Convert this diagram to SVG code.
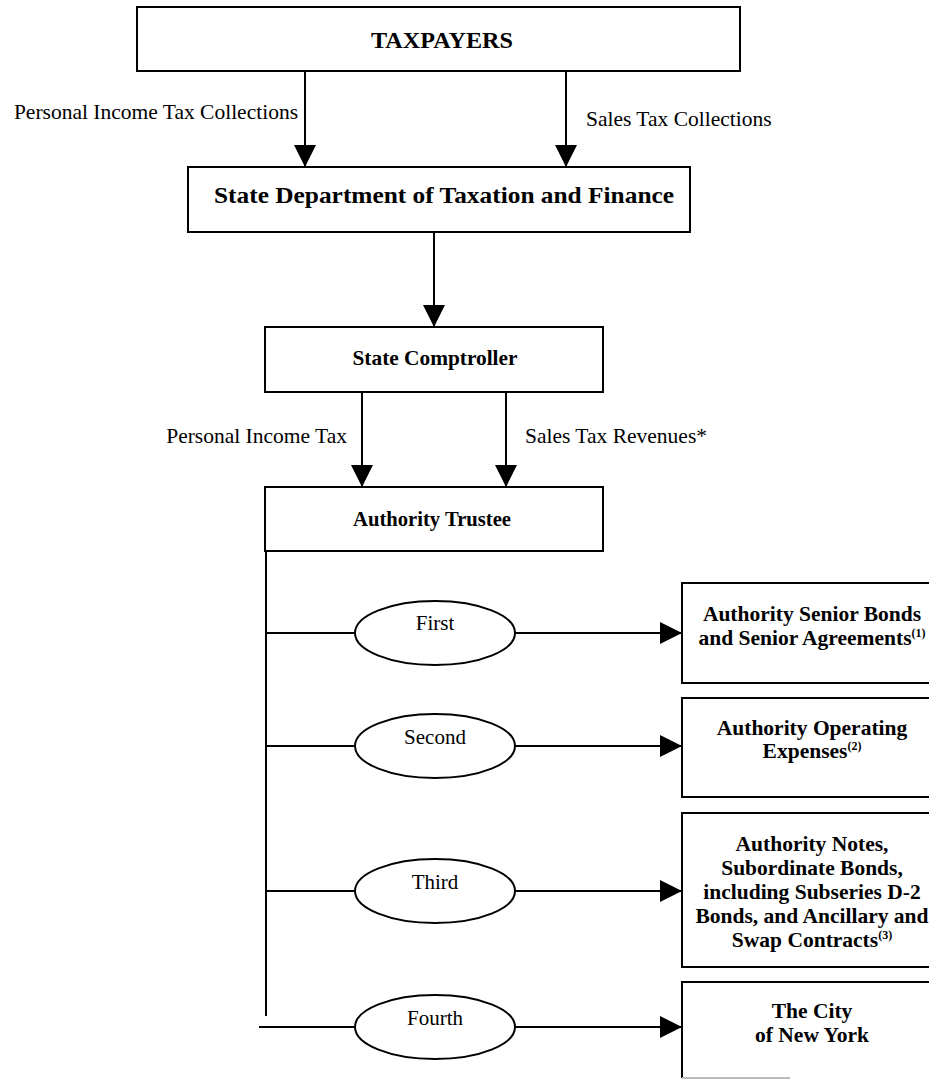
<svg xmlns="http://www.w3.org/2000/svg" width="929" height="1080" viewBox="0 0 929 1080">
<style>
.box{fill:#fff;stroke:#000;stroke-width:2}
.ell{fill:#fff;stroke:#000;stroke-width:2}
.ln{stroke:#000;stroke-width:2;fill:none}
.bt{font-family:"Liberation Serif",serif;font-weight:bold;font-size:23px;text-anchor:middle;fill:#000}
.bs{font-family:"Liberation Serif",serif;font-weight:bold;font-size:21px;text-anchor:middle;fill:#000}
.br{font-family:"Liberation Serif",serif;font-weight:bold;font-size:21.5px;text-anchor:middle;fill:#000}
.lb{font-family:"Liberation Serif",serif;font-size:21.5px;fill:#000}
.el{font-family:"Liberation Serif",serif;font-size:21px;text-anchor:middle;fill:#000}
.sup{font-size:12px}
</style>
<defs>
<marker id="ah" markerUnits="userSpaceOnUse" markerWidth="22" markerHeight="22" viewBox="0 0 20 20" refX="20" refY="10" orient="auto">
<path d="M0,0 L20,10 L0,20 Z" fill="#000"/>
</marker>
</defs>
<g id="connectors">
<line class="ln" x1="305" y1="71" x2="305" y2="167" marker-end="url(#ah)"/>
<line class="ln" x1="566" y1="71" x2="566" y2="167" marker-end="url(#ah)"/>
<line class="ln" x1="434" y1="232" x2="434" y2="327" marker-end="url(#ah)"/>
<line class="ln" x1="362" y1="392" x2="362" y2="487" marker-end="url(#ah)"/>
<line class="ln" x1="506" y1="392" x2="506" y2="487" marker-end="url(#ah)"/>
<line class="ln" x1="266" y1="551" x2="266" y2="1016"/>
<line class="ln" x1="266" y1="633" x2="355" y2="633"/>
<line class="ln" x1="515" y1="633" x2="682" y2="633" marker-end="url(#ah)"/>
<line class="ln" x1="266" y1="746" x2="355" y2="746"/>
<line class="ln" x1="515" y1="746" x2="682" y2="746" marker-end="url(#ah)"/>
<line class="ln" x1="266" y1="891" x2="355" y2="891"/>
<line class="ln" x1="515" y1="891" x2="682" y2="891" marker-end="url(#ah)"/>
<line class="ln" x1="259" y1="1027" x2="355" y2="1027"/>
<line class="ln" x1="515" y1="1027" x2="682" y2="1027" marker-end="url(#ah)"/>
<text class="lb" x="298" y="119" text-anchor="end">Personal Income Tax Collections</text>
<text class="lb" x="586" y="126">Sales Tax Collections</text>
<text class="lb" x="347" y="443" text-anchor="end">Personal Income Tax</text>
<text class="lb" x="525" y="443">Sales Tax Revenues*</text>
</g>
<g id="taxpayers">
<rect class="box" x="137" y="7" width="603" height="64"/>
<text class="bt" x="442" y="48" textLength="142" lengthAdjust="spacingAndGlyphs">TAXPAYERS</text>
</g>
<g id="state-dept">
<rect class="box" x="188" y="167" width="502" height="65"/>
<text class="bt" x="444" y="203" textLength="460" lengthAdjust="spacingAndGlyphs">State Department of Taxation and Finance</text>
</g>
<g id="comptroller">
<rect class="box" x="265" y="327" width="338" height="65"/>
<text class="bs" x="435" y="365" textLength="165" lengthAdjust="spacingAndGlyphs">State Comptroller</text>
</g>
<g id="trustee">
<rect class="box" x="265" y="487" width="338" height="64"/>
<text class="bs" x="432" y="526" textLength="158" lengthAdjust="spacingAndGlyphs">Authority Trustee</text>
</g>
<g id="first">
<ellipse class="ell" cx="435" cy="633" rx="80" ry="32"/>
<text class="el" x="435" y="630">First</text>
</g>
<g id="second">
<ellipse class="ell" cx="435" cy="746" rx="80" ry="32"/>
<text class="el" x="435" y="744">Second</text>
</g>
<g id="third">
<ellipse class="ell" cx="435" cy="891" rx="80" ry="32"/>
<text class="el" x="435" y="889">Third</text>
</g>
<g id="fourth">
<ellipse class="ell" cx="435" cy="1027" rx="80" ry="32"/>
<text class="el" x="435" y="1025">Fourth</text>
</g>
<g id="senior-bonds">
<rect class="box" x="682" y="583" width="260" height="100"/>
<text class="br" x="812" y="621">Authority Senior Bonds</text>
<text class="br" x="812" y="645">and Senior Agreements<tspan class="sup" dy="-8">(1)</tspan></text>
</g>
<g id="operating-expenses">
<rect class="box" x="682" y="698" width="260" height="99"/>
<text class="br" x="812" y="735">Authority Operating</text>
<text class="br" x="812" y="758">Expenses<tspan class="sup" dy="-8">(2)</tspan></text>
</g>
<g id="notes">
<rect class="box" x="682" y="813" width="260" height="154"/>
<text class="br" x="812" y="851">Authority Notes,</text>
<text class="br" x="812" y="875">Subordinate Bonds,</text>
<text class="br" x="812" y="899">including Subseries D-2</text>
<text class="br" x="812" y="923">Bonds, and Ancillary and</text>
<text class="br" x="812" y="947">Swap Contracts<tspan class="sup" dy="-8">(3)</tspan></text>
</g>
<g id="city">
<path class="ln" d="M682,1078 V982 H942"/>
<line x1="682" y1="1078" x2="790" y2="1078" stroke="#bbb" stroke-width="2"/>
<text class="br" x="812" y="1018">The City</text>
<text class="br" x="812" y="1042">of New York</text>
</g>
</svg>
